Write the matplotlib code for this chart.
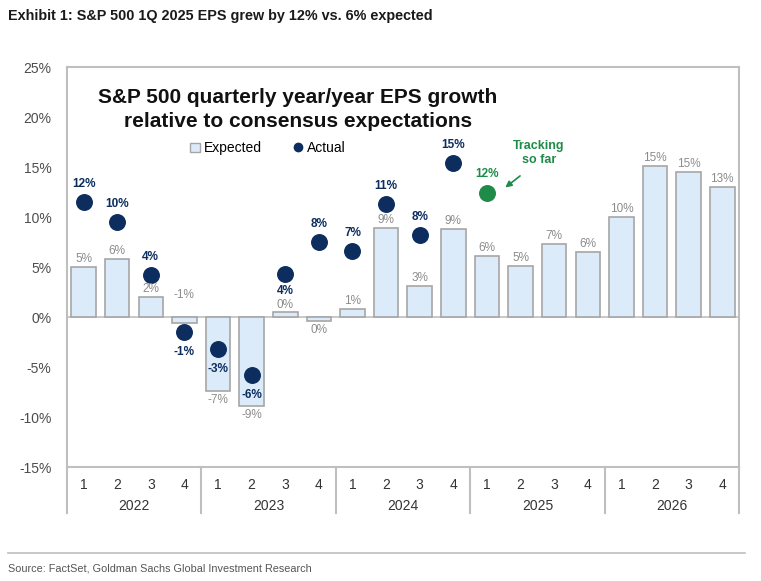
import matplotlib.pyplot as plt
from matplotlib.lines import Line2D
from matplotlib.patches import Patch

# Datos
years = ['2022', '2023', '2024', '2025', '2026']
quarters = ['1', '2', '3', '4'] * 5
expected = [5.0, 5.8, 2.0, -0.6, -7.4, -8.9, 0.5, -0.4, 0.8, 8.9,
            3.1, 8.8, 6.1, 5.1, 7.3, 6.5, 10.0, 15.1, 14.5, 13.0]
expected_labels = ['5%', '6%', '2%', '-1%', '-7%', '-9%', '0%', '0%', '1%', '9%',
                   '3%', '9%', '6%', '5%', '7%', '6%', '10%', '15%', '15%', '13%']
actual = [11.5, 9.5, 4.2, -1.5, -3.2, -5.8, 4.3, 7.5, 6.6, 11.3, 8.2, 15.4]
actual_labels = ['12%', '10%', '4%', '-1%', '-3%', '-6%', '4%', '8%', '7%', '11%', '8%', '15%']
tracking = 12.4
tracking_label = '12%'

navy = '#0C2D5E'
green = '#1E8B48'
bar_fill = '#DCEBFA'
bar_edge = '#A6A6A6'
label_gray = '#8C8C8C'
spine_gray = '#BFBFBF'

plt.rcParams['font.family'] = ['Liberation Sans', 'DejaVu Sans']

fig = plt.figure(figsize=(7.61, 5.81), dpi=100)
ax = fig.add_axes([0.0877, 0.1962, 0.8835, 0.688])

x = list(range(len(expected)))
ax.bar(x, expected, width=0.73, color=bar_fill, edgecolor=bar_edge, linewidth=1.2, zorder=2)
ax.axhline(0, color=spine_gray, linewidth=1.2, zorder=1)

xa = list(range(len(actual)))
ax.scatter(xa, actual, s=125, color=navy, zorder=3)
ax.scatter([len(actual)], [tracking], s=125, color=green, zorder=3)

# Etiquetas de las barras
for i, (v, lab) in enumerate(zip(expected, expected_labels)):
    if i == 3:
        off = 16
    elif i == 6:
        off = 5
    elif v >= 0:
        off = 6
    else:
        off = -6.5
    ax.annotate(lab, (i, v if i != 3 else 0), xytext=(0, off), textcoords='offset points',
                ha='center', va='center', fontsize=8.5, color=label_gray)

# Etiquetas de los puntos
below = [3, 4, 5, 6]
for i, (v, lab) in enumerate(zip(actual, actual_labels)):
    if i == 6:
        off = -12
    elif i in below:
        off = -14
    else:
        off = 13
    ax.annotate(lab, (i, v), xytext=(0, off), textcoords='offset points',
                ha='center', va='center', fontsize=8.5, color=navy, fontweight='bold')

ax.annotate(tracking_label, (len(actual), tracking), xytext=(0, 14), textcoords='offset points',
            ha='center', va='center', fontsize=8.5, color=green, fontweight='bold')
ax.text(13.55, 16.4, 'Tracking\nso far', ha='center', va='center', fontsize=9,
        color=green, fontweight='bold', linespacing=1.2)
ax.annotate('', xy=(12.48, 12.8), xytext=(13.05, 14.3),
            arrowprops=dict(arrowstyle='-|>', color=green, lw=1.2, mutation_scale=9))

# Ejes
ax.set_xlim(-0.5, len(expected) - 0.5)
ax.set_ylim(-15, 25)
ax.set_yticks(range(-15, 26, 5))
ax.set_yticklabels(['{}%'.format(t) for t in range(-15, 26, 5)])
ax.tick_params(axis='y', length=0, pad=11, labelsize=10, labelcolor='#4D4D4D')
ax.set_xticks(x)
ax.set_xticklabels(quarters)
ax.tick_params(axis='x', length=0, pad=8, labelsize=10, labelcolor='#333333')
for s in ax.spines.values():
    s.set_color(spine_gray)
    s.set_linewidth(1.5)

# Separadores de anos y etiquetas
trans = ax.get_xaxis_transform()
for k in range(len(years) + 1):
    ax.plot([k * 4 - 0.5, k * 4 - 0.5], [0, -0.115], transform=trans,
            color=spine_gray, linewidth=1.5, clip_on=False)
for k, yr in enumerate(years):
    ax.text(k * 4 + 1.5, -0.0975, yr, transform=trans, ha='center', va='center',
            fontsize=10, color='#333333')

# Titulo interno
ax.text(0.344, 0.895, 'S&P 500 quarterly year/year EPS growth\nrelative to consensus expectations',
        transform=ax.transAxes, ha='center', va='center', fontsize=15,
        fontweight='bold', color='#111111', linespacing=1.3)

handles = [Patch(facecolor=bar_fill, edgecolor=bar_edge, linewidth=1),
           Line2D([], [], marker='o', color=navy, linestyle='none', markersize=6)]
ax.legend(handles, ['Expected', 'Actual'], loc='center', bbox_to_anchor=(0.299, 0.7975),
          ncol=2, frameon=False, fontsize=10, handlelength=0.7, handleheight=0.7,
          handletextpad=0.3, columnspacing=2.2)

# Encabezado y fuente
fig.text(0.011, 0.972, 'Exhibit 1: S&P 500 1Q 2025 EPS grew by 12% vs. 6% expected',
         ha='left', va='center', fontsize=10.4, fontweight='bold', color='#1A1A1A')
fig.add_artist(Line2D([0.011, 0.979], [0.048, 0.048], color='#BFBFBF', linewidth=1.2))
fig.text(0.011, 0.021, 'Source: FactSet, Goldman Sachs Global Investment Research',
         ha='left', va='center', fontsize=7.8, color='#555555')

fig.savefig('out.png', dpi=100, facecolor='white')
